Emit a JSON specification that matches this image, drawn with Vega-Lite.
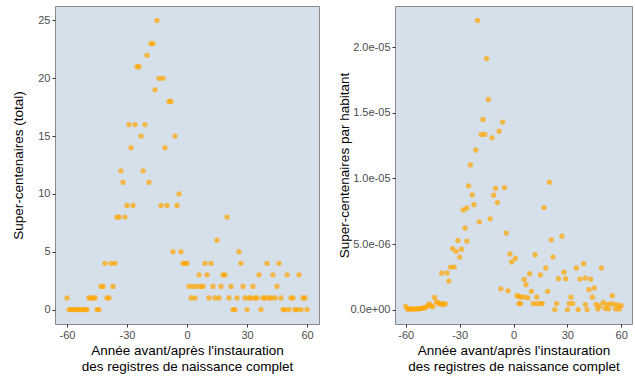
{
  "$schema": "https://vega.github.io/schema/vega-lite/v6.json",
  "background": "white",
  "padding": {"left": 11, "top": 5, "right": 0, "bottom": 5},
  "spacing": 17,
  "config": {
    "view": {"fill": "#d5e0ea", "stroke": "#8a8a8a", "strokeWidth": 1},
    "axis": {
      "grid": false, "domain": false, "tickColor": "#333333", "tickSize": 3,
      "labelColor": "#4d4d4d", "labelFont": "Liberation Sans", "labelFontSize": 11, "labelPadding": 2,
      "titleFont": "Liberation Sans", "titleFontSize": 13.5, "titleFontWeight": "normal", "titleColor": "#000000"
    }
  },
  "datasets": {
    "total": [
      {"annee": -60, "n": 1}, {"annee": -59, "n": 0}, {"annee": -58, "n": 0}, {"annee": -57, "n": 0}, {"annee": -56, "n": 0},
      {"annee": -55, "n": 0}, {"annee": -54, "n": 0}, {"annee": -53, "n": 0}, {"annee": -52, "n": 0}, {"annee": -51, "n": 0},
      {"annee": -50, "n": 0}, {"annee": -49, "n": 1}, {"annee": -48, "n": 1}, {"annee": -47, "n": 1}, {"annee": -46, "n": 1},
      {"annee": -45, "n": 0}, {"annee": -44, "n": 0}, {"annee": -43, "n": 2}, {"annee": -42, "n": 2}, {"annee": -41, "n": 4},
      {"annee": -40, "n": 1}, {"annee": -39, "n": 1}, {"annee": -38, "n": 4}, {"annee": -37, "n": 2}, {"annee": -36, "n": 4},
      {"annee": -35, "n": 8}, {"annee": -34, "n": 8}, {"annee": -33, "n": 12}, {"annee": -32, "n": 11}, {"annee": -31, "n": 8},
      {"annee": -30, "n": 9}, {"annee": -29, "n": 16}, {"annee": -28, "n": 14}, {"annee": -27, "n": 9}, {"annee": -26, "n": 16},
      {"annee": -25, "n": 21}, {"annee": -24, "n": 21}, {"annee": -23, "n": 15}, {"annee": -22, "n": 12}, {"annee": -21, "n": 16},
      {"annee": -20, "n": 22}, {"annee": -19, "n": 11}, {"annee": -18, "n": 23}, {"annee": -17, "n": 23}, {"annee": -16, "n": 19},
      {"annee": -15, "n": 25}, {"annee": -14, "n": 20}, {"annee": -13, "n": 9}, {"annee": -12, "n": 20}, {"annee": -11, "n": 14},
      {"annee": -10, "n": 9}, {"annee": -9, "n": 18}, {"annee": -8, "n": 18}, {"annee": -7, "n": 5}, {"annee": -6, "n": 15},
      {"annee": -5, "n": 9}, {"annee": -4, "n": 10}, {"annee": -3, "n": 5}, {"annee": -2, "n": 4}, {"annee": -1, "n": 4},
      {"annee": 0, "n": 4}, {"annee": 1, "n": 2}, {"annee": 2, "n": 1}, {"annee": 3, "n": 2}, {"annee": 4, "n": 1},
      {"annee": 5, "n": 2}, {"annee": 6, "n": 3}, {"annee": 7, "n": 2}, {"annee": 8, "n": 2}, {"annee": 9, "n": 4},
      {"annee": 10, "n": 3}, {"annee": 11, "n": 1}, {"annee": 12, "n": 4}, {"annee": 13, "n": 2}, {"annee": 14, "n": 1},
      {"annee": 15, "n": 6}, {"annee": 16, "n": 1}, {"annee": 17, "n": 2}, {"annee": 18, "n": 3}, {"annee": 19, "n": 3},
      {"annee": 20, "n": 8}, {"annee": 21, "n": 1}, {"annee": 22, "n": 2}, {"annee": 23, "n": 0}, {"annee": 24, "n": 0},
      {"annee": 25, "n": 1}, {"annee": 26, "n": 5}, {"annee": 27, "n": 4}, {"annee": 28, "n": 2}, {"annee": 29, "n": 1},
      {"annee": 30, "n": 0}, {"annee": 31, "n": 1}, {"annee": 32, "n": 1}, {"annee": 33, "n": 2}, {"annee": 34, "n": 1},
      {"annee": 35, "n": 1}, {"annee": 36, "n": 3}, {"annee": 37, "n": 0}, {"annee": 38, "n": 1}, {"annee": 39, "n": 1},
      {"annee": 40, "n": 4}, {"annee": 41, "n": 1}, {"annee": 42, "n": 1}, {"annee": 43, "n": 3}, {"annee": 44, "n": 1},
      {"annee": 45, "n": 2}, {"annee": 46, "n": 4}, {"annee": 47, "n": 1}, {"annee": 48, "n": 0}, {"annee": 49, "n": 0},
      {"annee": 50, "n": 3}, {"annee": 51, "n": 0}, {"annee": 52, "n": 1}, {"annee": 53, "n": 1}, {"annee": 54, "n": 0},
      {"annee": 55, "n": 0}, {"annee": 56, "n": 3}, {"annee": 57, "n": 0}, {"annee": 58, "n": 1}, {"annee": 59, "n": 1},
      {"annee": 60, "n": 0}
    ],
    "parhab": [
      {"annee": -60, "p": 2.5e-7}, {"annee": -59, "p": 5e-8}, {"annee": -58, "p": 3e-8}, {"annee": -57, "p": 5e-8}, {"annee": -56, "p": 4e-8},
      {"annee": -55, "p": 6e-8}, {"annee": -54, "p": 5e-8}, {"annee": -53, "p": 8e-8}, {"annee": -52, "p": 6e-8}, {"annee": -51, "p": 1e-7},
      {"annee": -50, "p": 1.2e-7}, {"annee": -49, "p": 1.5e-7}, {"annee": -48, "p": 2.8e-7}, {"annee": -47, "p": 4.3e-7}, {"annee": -46, "p": 3e-7},
      {"annee": -45, "p": 2.2e-7}, {"annee": -44, "p": 9.2e-7}, {"annee": -43, "p": 5.8e-7}, {"annee": -42, "p": 5e-7}, {"annee": -41, "p": 4.2e-7},
      {"annee": -40, "p": 4.5e-7}, {"annee": -39, "p": 3.8e-7}, {"annee": -38, "p": 4.5e-7},
      {"annee": -40, "p": 2.79e-6}, {"annee": -37, "p": 2.79e-6}, {"annee": -36, "p": 2.17e-6}, {"annee": -35, "p": 3.24e-6},
      {"annee": -34, "p": 4.65e-6}, {"annee": -33, "p": 3.24e-6}, {"annee": -32, "p": 4.44e-6}, {"annee": -31, "p": 5.27e-6},
      {"annee": -30, "p": 4.0e-6}, {"annee": -29, "p": 4.6e-6}, {"annee": -28, "p": 7.6e-6}, {"annee": -27, "p": 6.21e-6},
      {"annee": -26, "p": 5.22e-6}, {"annee": -26, "p": 7.75e-6}, {"annee": -25, "p": 9.43e-6}, {"annee": -24, "p": 1.103e-5},
      {"annee": -23, "p": 8.75e-6}, {"annee": -22, "p": 8.0e-6}, {"annee": -21, "p": 1.217e-5}, {"annee": -20, "p": 2.205e-5},
      {"annee": -19, "p": 6.69e-6}, {"annee": -18, "p": 1.336e-5}, {"annee": -17, "p": 1.45e-5}, {"annee": -16, "p": 1.336e-5},
      {"annee": -15, "p": 1.914e-5}, {"annee": -14, "p": 1.602e-5}, {"annee": -13, "p": 6.92e-6}, {"annee": -12, "p": 1.31e-5},
      {"annee": -11, "p": 8.72e-6}, {"annee": -10, "p": 9.25e-6}, {"annee": -9, "p": 8.16e-6}, {"annee": -8, "p": 1.36e-5},
      {"annee": -7, "p": 1.58e-6}, {"annee": -6, "p": 1.43e-5}, {"annee": -5, "p": 9.3e-6}, {"annee": -4, "p": 5.83e-6},
      {"annee": -3, "p": 1.43e-6}, {"annee": -2, "p": 4.24e-6}, {"annee": -1, "p": 3.62e-6},
      {"annee": 1, "p": 3.9e-6}, {"annee": 2, "p": 1.06e-6}, {"annee": 3, "p": 1.01e-6}, {"annee": 3, "p": 4.6e-7}, {"annee": 4, "p": 4.6e-7},
      {"annee": 4, "p": 9.4e-7}, {"annee": 6, "p": 2.3e-6}, {"annee": 6, "p": 9.6e-7}, {"annee": 7, "p": 1.9e-6}, {"annee": 8, "p": 9e-7},
      {"annee": 9, "p": 2.74e-6}, {"annee": 10, "p": 1.39e-6}, {"annee": 11, "p": 4.6e-7}, {"annee": 12, "p": 4.18e-6}, {"annee": 13, "p": 9.4e-7},
      {"annee": 13, "p": 4.6e-7}, {"annee": 15, "p": 2.64e-6}, {"annee": 15, "p": 4.6e-7}, {"annee": 16, "p": 4.6e-7}, {"annee": 17, "p": 7.78e-6},
      {"annee": 18, "p": 3.17e-6}, {"annee": 19, "p": 1.39e-6}, {"annee": 20, "p": 9.71e-6}, {"annee": 21, "p": 5.32e-6}, {"annee": 22, "p": 4.0e-6},
      {"annee": 23, "p": 0}, {"annee": 24, "p": 4.6e-7}, {"annee": 25, "p": 2.35e-6}, {"annee": 27, "p": 5.6e-6}, {"annee": 28, "p": 2.85e-6},
      {"annee": 29, "p": 2.35e-6}, {"annee": 30, "p": 0}, {"annee": 31, "p": 4.6e-7}, {"annee": 32, "p": 9.4e-7}, {"annee": 33, "p": 4.6e-7},
      {"annee": 35, "p": 3.17e-6}, {"annee": 36, "p": 0}, {"annee": 37, "p": 2.33e-6}, {"annee": 39, "p": 3.5e-6}, {"annee": 40, "p": 2.4e-6},
      {"annee": 40, "p": 3.8e-7}, {"annee": 41, "p": 0}, {"annee": 42, "p": 1.52e-6}, {"annee": 43, "p": 2.33e-6}, {"annee": 44, "p": 9.4e-7},
      {"annee": 45, "p": 1.65e-6}, {"annee": 46, "p": 4e-7}, {"annee": 47, "p": 5e-8}, {"annee": 48, "p": 3e-7}, {"annee": 49, "p": 3.17e-6},
      {"annee": 50, "p": 5.5e-7}, {"annee": 51, "p": 1e-7}, {"annee": 52, "p": 3.8e-7}, {"annee": 53, "p": 5e-8}, {"annee": 54, "p": 4.5e-7},
      {"annee": 55, "p": 1.06e-6}, {"annee": 56, "p": 4e-7}, {"annee": 57, "p": 5e-8}, {"annee": 58, "p": 3.5e-7}, {"annee": 59, "p": 5e-8},
      {"annee": 60, "p": 3e-7}
    ]
  },
  "hconcat": [
    {
      "width": 264,
      "height": 318,
      "layer": [
        {
          "data": {"name": "total"},
          "mark": {"type": "circle", "color": "#ffa500", "opacity": 0.7, "size": 28},
          "encoding": {
            "x": {"field": "annee", "type": "quantitative", "scale": {"domain": [-66, 66], "nice": false, "zero": false},
                  "axis": {"values": [-60, -30, 0, 30, 60], "labelExpr": "'' + datum.value", "title": ["Année avant/après l'instauration", "des registres de naissance complet"], "titlePadding": 3, "titleLineHeight": 16}},
            "y": {"field": "n", "type": "quantitative", "scale": {"domain": [-1.25, 26.25], "nice": false, "zero": false},
                  "axis": {"values": [0, 5, 10, 15, 20, 25], "title": "Super-centenaires (total)", "titlePadding": 12}}
          }
        },
        {
          "mark": {"type": "rule", "color": "#ff0000", "strokeWidth": 2},
          "encoding": {"x": {"datum": 0, "type": "quantitative"}}
        }
      ]
    },
    {
      "width": 237,
      "height": 318,
      "layer": [
        {
          "data": {"name": "parhab"},
          "mark": {"type": "circle", "color": "#ffa500", "opacity": 0.7, "size": 28},
          "encoding": {
            "x": {"field": "annee", "type": "quantitative", "scale": {"domain": [-66, 66], "nice": false, "zero": false},
                  "axis": {"values": [-60, -30, 0, 30, 60], "labelExpr": "'' + datum.value", "title": ["Année avant/après l'instauration", "des registres de naissance complet"], "titlePadding": 3, "titleLineHeight": 16}},
            "y": {"field": "p", "type": "quantitative", "scale": {"domain": [-1.1e-6, 2.315e-5], "nice": false, "zero": false},
                  "axis": {"values": [0, 5e-6, 1e-5, 1.5e-5, 2e-5], "labelExpr": "replace(replace(format(datum.value, '.1e'), 'e-', 'e-0'), 'e+', 'e+0')", "title": "Super-centenaires par habitant", "titlePadding": -2}}
          }
        },
        {
          "mark": {"type": "rule", "color": "#ff0000", "strokeWidth": 2},
          "encoding": {"x": {"datum": 0, "type": "quantitative"}}
        }
      ]
    }
  ]
}
